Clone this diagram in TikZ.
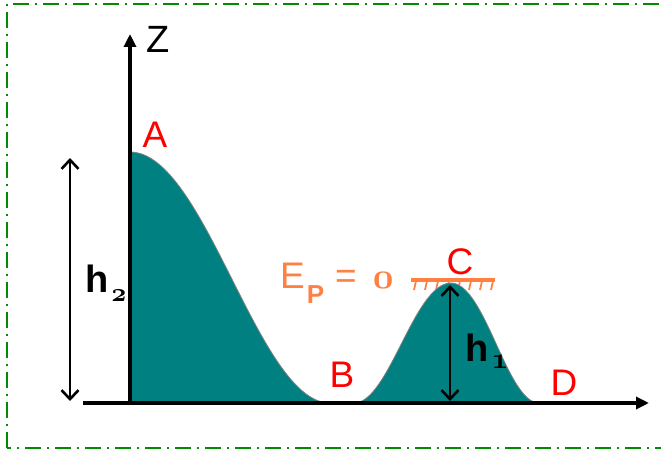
\documentclass[tikz,border=0pt]{standalone}
\usepackage{fontspec}
\usepackage{graphicx}
\setmainfont{Liberation Sans}
\usetikzlibrary{arrows.meta}
\definecolor{hillteal}{RGB}{0,128,128}
\definecolor{epor}{RGB}{255,128,64}
\definecolor{frameg}{RGB}{0,140,0}
\newcommand{\osfdig}[2]{\scalebox{#1}{\fontencoding{OML}\fontfamily{cmm}\fontseries{b}\fontshape{it}\fontsize{24.88}{24.88}\selectfont #2}}
\begin{document}
\begin{tikzpicture}[x=1pt,y=-1pt,
  lbl/.style={text=red,font=\fontsize{37}{37}\selectfont,inner sep=0pt},
  hlbl/.style={font=\fontsize{38}{38}\selectfont\bfseries,inner sep=0pt},
  axisline/.style={line width=3.2pt,-{Triangle[length=13pt,width=12pt]}},
  dimline/.style={line width=2.6pt,{Straight Barb[length=9pt,width=17pt]}-{Straight Barb[length=9pt,width=17pt]}},
  hatch/.style={epor,line width=1.8pt},
]
\useasboundingbox (0,0) rectangle (661,452);
\clip (0,0) rectangle (661,452);
\draw[frameg,line width=1.6pt,dash pattern=on 16pt off 6pt on 2pt off 6pt] (7,448) -- (7,4) -- (690,4) -- (690,448) -- cycle;
% coordinates
\coordinate (O) at (130,403);
\coordinate (A) at (130,152);
\coordinate (B1) at (330,403);
\coordinate (B2) at (354,403);
\coordinate (C) at (451,283);
\coordinate (D) at (539,403);
\coordinate (Xs) at (83,403);
\coordinate (Xe) at (649,403);
\coordinate (Ze) at (130,34);
\coordinate (G1) at (411,280);
\coordinate (G2) at (495,280);
% hatch of ground symbol
\foreach \x in {416,427,...,494} \draw[hatch] (\x,281) -- (\x-2,290);
% hill
\fill[hillteal] (O) -- (A) .. controls (205,152) and (258,403) .. (B1) -- (B2)
  .. controls (389,403) and (414,283) .. (C) .. controls (485,283) and (507,403) .. (D) -- cycle;
\draw[gray,line width=0.8pt] (A) .. controls (205,152) and (258,403) .. (B1) -- (B2)
  .. controls (389,403) and (414,283) .. (C) .. controls (485,283) and (507,403) .. (D);
% ground line
\draw[epor,line width=3.5pt] (G1) -- (G2);
% axes
\draw[axisline] (Xs) -- (Xe);
\draw[axisline] (130,405) -- (Ze);
% dimension arrows
\coordinate (h2t) at (70,158);
\coordinate (h2b) at (70,401);
\coordinate (h1t) at (450,285);
\coordinate (h1b) at (450,401);
\draw[dimline] (h2t) -- (h2b);
\draw[dimline] (h1t) -- (h1b);
% labels
\node[lbl,text=black,font=\fontsize{38}{38}\selectfont] (zl) at (158,39) {Z};
\node[lbl] (al) at (155,135) {A};
\node[lbl] (bl) at (342,375) {B};
\node[lbl] (cl) at (460,262) {C};
\node[lbl] (dl) at (564,383) {D};
\node[hlbl,anchor=base west] (h2l) at (85,292) {h\hspace{3pt}\raisebox{-9pt}{\osfdig{1.05}{2}}};
\node[hlbl,anchor=base west] (h1l) at (465,361) {h\hspace{3pt}\raisebox{-7pt}{\osfdig{1.2}{1}}};
\node[text=epor,font=\fontsize{37}{37}\selectfont,inner sep=0pt,anchor=base west] (ep) at (280,288)
  {E\hspace{2pt}\raisebox{-15pt}{\fontsize{26}{26}\selectfont\bfseries P}\hspace{11pt}=\hspace{16pt}\osfdig{1.45}{0}};
\end{tikzpicture}
\end{document}
